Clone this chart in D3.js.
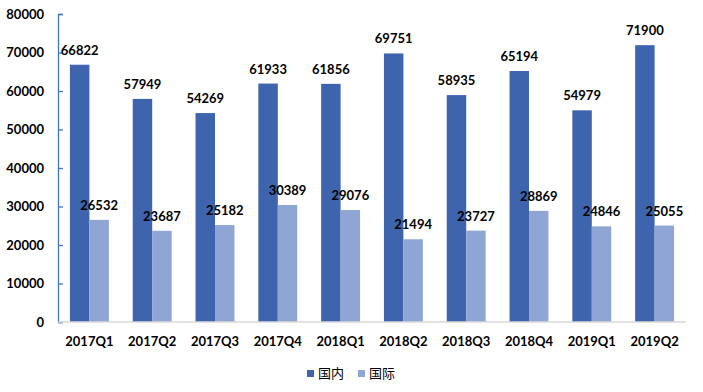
<!DOCTYPE html>
<html>
  <head>
    <meta charset="utf-8">
    <script src="https://d3js.org/d3.v7.min.js"></script>
    <style>
      body { margin: 0; background: #fff; }
      text { font-family: Lato, "Noto Sans CJK SC", sans-serif; font-weight: bold; fill: #000; }
    </style>
  </head>
  <body>
    <div id="chart"></div>
    <script>
      const quarters = ["2017Q1", "2017Q2", "2017Q3", "2017Q4", "2018Q1", "2018Q2", "2018Q3", "2018Q4", "2019Q1", "2019Q2"];
      const domestic = [66822, 57949, 54269, 61933, 61856, 69751, 58935, 65194, 54979, 71900];
      const international = [26532, 23687, 25182, 30389, 29076, 21494, 23727, 28869, 24846, 25055];
      const seriesNames = ["国内", "国际"];
      const colors = ["#3D64AD", "#8FA5D4"];
      const yTicks = [0, 10000, 20000, 30000, 40000, 50000, 60000, 70000, 80000];

      const width = 703, height = 392;
      const plotLeft = 58, plotRight = 686, plotTop = 14, plotBottom = 322;

      const svg = d3.select("#chart").append("svg")
        .attr("width", width)
        .attr("height", height);

      const x = d3.scaleBand().domain(quarters).range([plotLeft, plotRight]).paddingInner(0.38).paddingOuter(0.19);
      const x1 = d3.scaleBand().domain([0, 1]).range([0, x.bandwidth()]);
      const y = d3.scaleLinear().domain([0, 80000]).range([plotBottom, plotTop]);

      // y axis
      const yAxis = svg.append("g")
        .attr("transform", "translate(" + plotLeft + ",0)")
        .call(d3.axisLeft(y).tickValues(yTicks).tickSize(-5).tickPadding(14).tickFormat(d3.format("d")));
      yAxis.select(".domain").attr("stroke", "#4472C4").attr("stroke-width", 1.3);
      yAxis.selectAll(".tick line").attr("stroke", "#4472C4").attr("stroke-width", 1.3);
      yAxis.selectAll("text").style("font-size", "13px");

      const groups = svg.selectAll(".grp")
        .data(quarters)
        .enter().append("g")
        .attr("transform", d => "translate(" + x(d) + ",0)");

      const sets = [domestic, international];
      sets.forEach((vals, s) => {
        groups.append("rect")
          .attr("x", x1(s))
          .attr("y", (d, i) => y(vals[i]))
          .attr("width", x1.bandwidth())
          .attr("height", (d, i) => plotBottom - y(vals[i]))
          .attr("fill", colors[s]);
      });
      sets.forEach((vals, s) => {
        groups.append("text")
          .attr("x", x1(s) + x1.bandwidth() / 2)
          .attr("y", (d, i) => y(vals[i]) - 10)
          .attr("text-anchor", "middle")
          .style("font-size", "13px")
          .text((d, i) => vals[i]);
      });

      // x axis
      svg.append("line")
        .attr("x1", plotLeft).attr("x2", plotRight)
        .attr("y1", plotBottom).attr("y2", plotBottom)
        .attr("stroke", "#D9D9D9").attr("stroke-width", 1.3);
      svg.selectAll(".xl")
        .data(quarters)
        .enter().append("text")
        .attr("x", d => x(d) + x.bandwidth() / 2)
        .attr("y", 346)
        .attr("text-anchor", "middle")
        .style("font-size", "13px")
        .text(d => d);

      // legend
      const legend = svg.append("g");
      const lx = [307, 358];
      seriesNames.forEach((name, i) => {
        legend.append("rect")
          .attr("x", lx[i]).attr("y", 370)
          .attr("width", 7).attr("height", 7)
          .attr("fill", colors[i]);
        legend.append("text")
          .attr("x", lx[i] + 11).attr("y", 378)
          .style("font-size", "13px")
          .style("font-weight", "normal")
          .text(name);
      });
    </script>
  </body>
</html>
